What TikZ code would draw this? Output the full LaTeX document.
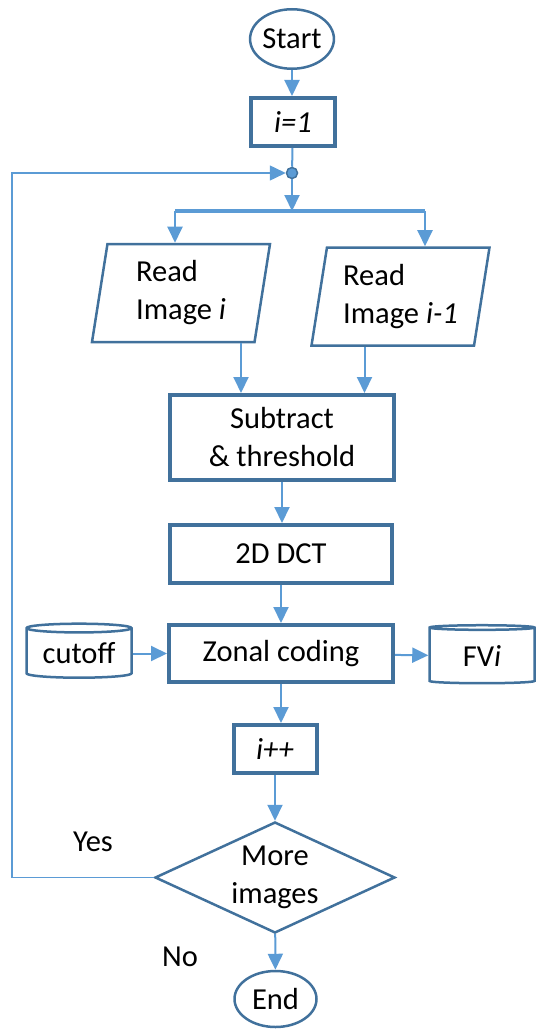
\documentclass[tikz,border=0pt]{standalone}
\usepackage{fontspec}
\setmainfont{Carlito}
\usetikzlibrary{shapes.geometric,arrows.meta}

\definecolor{lineblue}{HTML}{5B9BD5}
\definecolor{edgeblue}{HTML}{41719C}

\begin{document}
\begin{tikzpicture}[x=1pt, y=-1pt,
    every node/.style={font=\fontsize{30.5}{38}\selectfont, text=black},
    box/.style={rectangle, draw=edgeblue, line width=4pt, align=center},
    terminal/.style={ellipse, draw=edgeblue, line width=2.5pt, inner sep=0pt},
    readbox/.style={trapezium, trapezium left angle=76.5, trapezium right angle=103.5,
        trapezium stretches body, draw=edgeblue, line width=2.5pt, align=left,
        minimum width=178pt, minimum height=98pt, inner sep=0pt},
    store/.style={cylinder, shape border rotate=90, aspect=0.12, draw=edgeblue,
        line width=2.5pt, inner sep=0pt},
    decision/.style={diamond, aspect=2.12, draw=edgeblue, line width=2.5pt,
        inner sep=0pt, align=center, minimum width=240pt, minimum height=111pt},
    flow/.style={draw=lineblue, line width=2pt, -{Triangle[width=15pt,length=16pt]}},
    link/.style={draw=lineblue, line width=2pt},
    back/.style={draw=lineblue, line width=1.5pt, -{Triangle[width=15pt,length=16pt]}},
    bar/.style={draw=lineblue, line width=4pt}]

    \useasboundingbox (0,0) rectangle (538,1030);

    % nodes
    \node [terminal, minimum width=81.5pt, minimum height=59.5pt] (start) at (292,39) {Start};
    \node [box, minimum width=84pt, minimum height=48pt] (init) at (293,122) {\textit{i=1}};
    \node [circle, fill=lineblue, draw=edgeblue, line width=1.5pt, inner sep=0pt, minimum size=11pt] (junc) at (292,173) {};
    \coordinate (barL) at (175,211);
    \coordinate (barR) at (425,211);
    \node [readbox] (readA) at (181,293) {Read\\Image \textit{i}};
    \node [readbox] (readB) at (400.5,296.5) {Read\\Image \textit{i-1}};
    \node [box, minimum width=224pt, minimum height=85pt] (sub) at (282,437.5) {Subtract\\\& threshold};
    \node [box, minimum width=222pt, minimum height=58pt] (dct) at (281,554) {2D DCT};
    \node [box, minimum width=224pt, minimum height=57pt] (zonal) at (281,653.5) {Zonal coding};
    \node [store, minimum width=105pt, minimum height=54pt] (cutoff) at (79,653.5) {cutoff};
    \node [store, minimum width=105pt, minimum height=58pt] (fv) at (482,656) {FV\textit{i}};
    \node [box, minimum width=83pt, minimum height=48pt] (ipp) at (275,749) {\textit{i++}};
    \node [decision] (more) at (275,877.5) {More\\images};
    \node [terminal, minimum width=82pt, minimum height=56pt] (end) at (275.5,999) {End};
    \node (yes) at (93,842) {Yes};
    \node (no) at (180,957) {No};
    \coordinate (loopB) at (12,877.5);
    \coordinate (loopT) at (12,173);

    % connectors
    \draw [flow] (start) -- (start |- init.north);
    \draw [link] (init) -- (junc);
    \draw [flow] (junc) -- (junc |- barL);
    \draw [bar] (barL) -- (barR);
    \draw [flow] (barL) -- (barL |- readA.north);
    \draw [flow] (barR) -- (barR |- readB.north);
    \draw [flow] ([xshift=60pt]readA.south) -- ([xshift=60pt]readA.south |- sub.north);
    \draw [flow] ([xshift=-36pt]readB.south) -- ([xshift=-36pt]readB.south |- sub.north);
    \draw [flow] (sub.south) -- (sub.south |- dct.north);
    \draw [flow] (dct.south) -- (dct.south |- zonal.north);
    \draw [flow] (cutoff) -- (zonal);
    \draw [flow] (zonal) -- (fv);
    \draw [flow] (zonal.south) -- (zonal.south |- ipp.north);
    \draw [flow] (ipp.south) -- (ipp.south |- more.north);
    \draw [flow] (more) -- (end);
    \draw [back] (more.west) -- (loopB) -- (loopT) -- (junc);
\end{tikzpicture}
\end{document}
